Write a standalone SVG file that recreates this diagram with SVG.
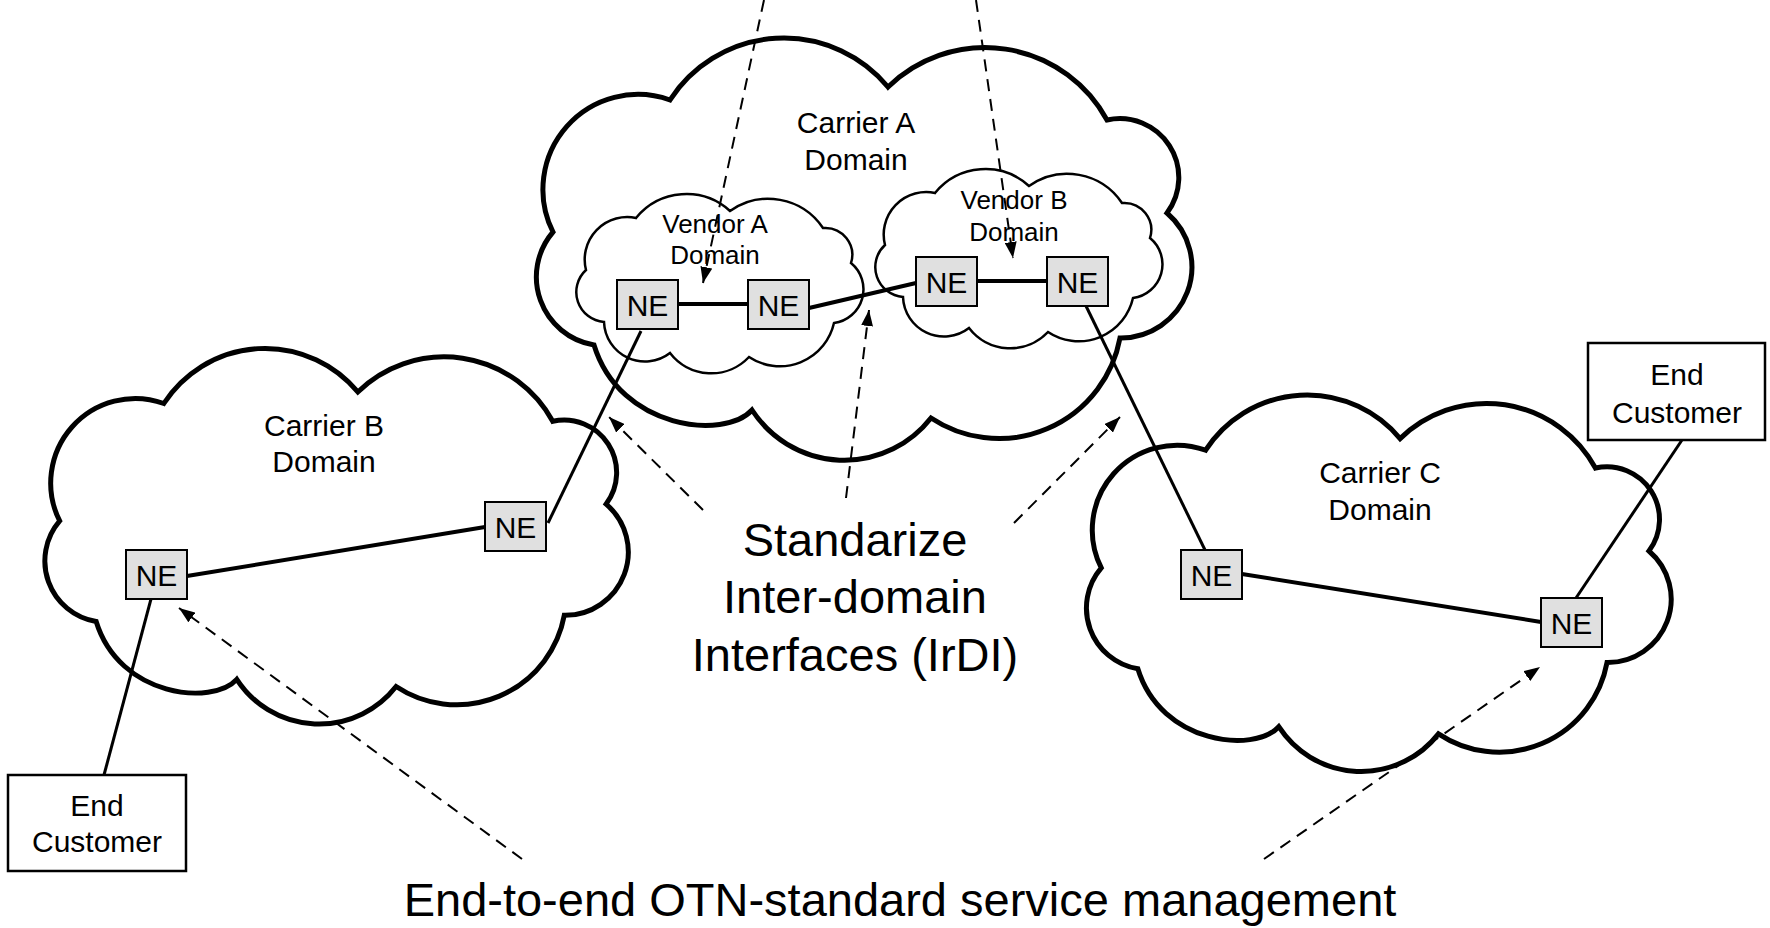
<svg xmlns="http://www.w3.org/2000/svg" width="1770" height="928" viewBox="0 0 1770 928">
<defs>
<style>
.cloud{fill:#fff;stroke:#000;stroke-width:5;stroke-linejoin:miter}
.vcloud{fill:#fff;stroke:#000;stroke-width:2.5}
.ne rect{fill:#e0e0e0;stroke:#000;stroke-width:2}
text{font-family:"Liberation Sans",Arial,Helvetica,sans-serif;fill:#000;text-anchor:middle}
.t30{font-size:30px}
.t26{font-size:26px}
.t47{font-size:47px}
.box{fill:#fff;stroke:#000;stroke-width:2.5}
.link{stroke:#000;stroke-width:3;fill:none}
.thick{stroke-width:4}
.dash{stroke:#000;stroke-width:2;fill:none;stroke-dasharray:12 8;marker-end:url(#ah)}
</style>
<marker id="ah" markerUnits="userSpaceOnUse" markerWidth="16" markerHeight="12" refX="16" refY="6" orient="auto"><path d="M0,0 L16,6 L0,12 Z" fill="#000"/></marker>
<path id="bigcloud" d="M670,100 A135.5,135.5 0 0 1 888,87 A139,139 0 0 1 1107,120 A59,59 0 0 1 1167,213 A71,71 0 0 1 1120,338 A123,123 0 0 1 931,418 A110,110 0 0 1 752,410 C725,440 620,430 594,345 A69,69 0 0 1 553,232 A95,95 0 0 1 670,100 Z"/>
<path id="smallcloud" d="M935,193 A65,65 0 0 1 1029,186 A66,66 0 0 1 1122,203 A27,27 0 0 1 1150,238 A34,34 0 0 1 1133,298 A55.6,55.6 0 0 1 1048,332 A52,52 0 0 1 969,328 A41,41 0 0 1 903,297 A30,30 0 0 1 885,245 A42.5,42.5 0 0 1 935,193 Z"/>
</defs>

<g id="carrier-b">
<use href="#bigcloud" class="cloud" transform="translate(-432.5,314.5) scale(0.89)" style="stroke-width:5.6"/>
<text class="t30" x="324" y="436">Carrier B</text>
<text class="t30" x="324" y="472">Domain</text>
</g>
<g id="carrier-c">
<use href="#bigcloud" class="cloud" transform="translate(608,361) scale(0.892)" style="stroke-width:5.6"/>
<text class="t30" x="1380" y="483">Carrier C</text>
<text class="t30" x="1380" y="520">Domain</text>
</g>
<g id="carrier-a">
<use href="#bigcloud" class="cloud"/>
<text class="t30" x="856" y="133">Carrier A</text>
<text class="t30" x="856" y="170">Domain</text>
</g>
<g id="vendor-a">
<use href="#smallcloud" class="vcloud" transform="translate(-299,25)"/>
<text class="t26" x="715" y="233">Vendor A</text>
<text class="t26" x="715" y="264">Domain</text>
</g>
<g id="vendor-b">
<use href="#smallcloud" class="vcloud"/>
<text class="t26" x="1014" y="209">Vendor B</text>
<text class="t26" x="1014" y="241">Domain</text>
</g>

<g id="connectors">
<path class="link thick" d="M677,304 L748,304"/>
<path class="link thick" d="M809,308 L916,283"/>
<path class="link thick" d="M977,281 L1047,281"/>
<path class="link" d="M641,331 L548,523"/>
<path class="link thick" d="M485,527 L187,576"/>
<path class="link" d="M151,599 L104,775"/>
<path class="link" d="M1086,306 L1205,550"/>
<path class="link thick" d="M1242,574 L1541,622"/>
<path class="link" d="M1576,598 L1682,440"/>
<path class="dash" d="M764,0 L703,283"/>
<path class="dash" d="M976,0 L1013,258"/>
<path class="dash" d="M703,510 L609,417"/>
<path class="dash" d="M846,498 L869,310"/>
<path class="dash" d="M1014,523 L1120,417"/>
<path class="dash" d="M522,859 L179,608"/>
<path class="dash" d="M1264,859 L1540,667"/>
</g>

<g id="ne-va1" class="ne"><rect x="617" y="280" width="61" height="49"/><text class="t30" x="647.5" y="316">NE</text></g>
<g id="ne-va2" class="ne"><rect x="748" y="280" width="61" height="49"/><text class="t30" x="778.5" y="316">NE</text></g>
<g id="ne-vb1" class="ne"><rect x="916" y="257" width="61" height="49"/><text class="t30" x="946.5" y="293">NE</text></g>
<g id="ne-vb2" class="ne"><rect x="1047" y="257" width="61" height="49"/><text class="t30" x="1077.5" y="293">NE</text></g>
<g id="ne-cb1" class="ne"><rect x="485" y="502" width="61" height="49"/><text class="t30" x="515.5" y="538">NE</text></g>
<g id="ne-cb2" class="ne"><rect x="126" y="550" width="61" height="49"/><text class="t30" x="156.5" y="586">NE</text></g>
<g id="ne-cc1" class="ne"><rect x="1181" y="550" width="61" height="49"/><text class="t30" x="1211.5" y="586">NE</text></g>
<g id="ne-cc2" class="ne"><rect x="1541" y="598" width="61" height="49"/><text class="t30" x="1571.5" y="634">NE</text></g>

<g id="end-customer-left">
<rect class="box" x="8" y="775" width="178" height="96"/>
<text class="t30" x="97" y="816">End</text>
<text class="t30" x="97" y="852">Customer</text>
</g>
<g id="end-customer-right">
<rect class="box" x="1588" y="343" width="177" height="97"/>
<text class="t30" x="1677" y="385">End</text>
<text class="t30" x="1677" y="423">Customer</text>
</g>

<g id="irdi-label">
<text class="t47" x="855" y="556">Standarize</text>
<text class="t47" x="855" y="613">Inter-domain</text>
<text class="t47" x="855" y="671">Interfaces (IrDI)</text>
</g>
<g id="e2e-label">
<text class="t47" x="900" y="916">End-to-end OTN-standard service management</text>
</g>
</svg>
